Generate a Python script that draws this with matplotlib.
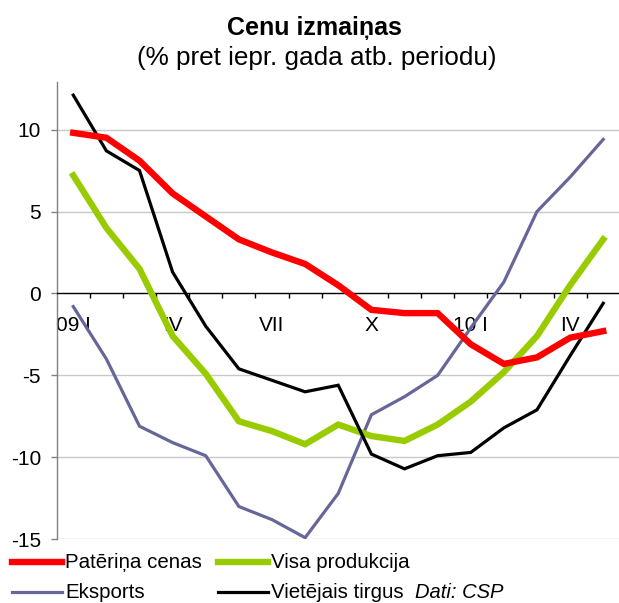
import matplotlib
matplotlib.use("Agg")
import matplotlib.pyplot as plt
from matplotlib.lines import Line2D

plt.rcParams['font.family'] = ['Liberation Sans', 'DejaVu Sans']

categories = ['09 I', 'II', 'III', 'IV', 'V', 'VI', 'VII', 'VIII', 'IX', 'X', 'XI', 'XII',
              '10 I', 'II', 'III', 'IV', 'V']
tick_positions = [0, 3, 6, 9, 12, 15]
tick_labels = ['09 I', 'IV', 'VII', 'X', '10 I', 'IV']

pateriņa = [9.8, 9.5, 8.1, 6.1, 4.7, 3.3, 2.5, 1.8, 0.5, -1.0, -1.2, -1.2, -3.1, -4.3, -3.9, -2.7, -2.3]
visa = [7.2, 4.0, 1.5, -2.6, -4.9, -7.8, -8.4, -9.2, -8.0, -8.7, -9.0, -8.0, -6.6, -4.8, -2.6, 0.5, 3.3]
eksports = [-0.8, -4.0, -8.1, -9.1, -9.9, -13.0, -13.8, -14.9, -12.2, -7.4, -6.3, -5.0, -2.1, 0.7, 5.0, 7.1, 9.4]
vietejais = [12.1, 8.7, 7.5, 1.3, -2.0, -4.6, -5.3, -6.0, -5.6, -9.8, -10.7, -9.9, -9.7, -8.2, -7.1, -3.8, -0.6]

y_ticks = [10, 5, 0, -5, -10, -15]

W, H = 619, 603
fig = plt.figure(figsize=(W / 100, H / 100), dpi=100)
ax = fig.add_axes([56.7 / W, 63.7 / H, 563.1 / W, 457.6 / H])

x = list(range(len(categories)))
ax.plot(x, eksports, color='#666699', lw=2.3, solid_joinstyle='miter', zorder=3)
ax.plot(x, vietejais, color='#000000', lw=2.3, solid_joinstyle='miter', zorder=4)
ax.plot(x, visa, color='#99CC00', lw=4.6, solid_joinstyle='miter', zorder=3)
ax.plot(x, pateriņa, color='#FF0000', lw=4.6, solid_joinstyle='miter', zorder=5)

ax.set_xlim(-0.5, len(categories) - 0.5)
ax.set_ylim(-15, 12.92)

for yv in [10, 5, -5, -10, -15]:
    ax.axhline(yv, color='#C8C8C8', lw=1.0, zorder=1)

ax.spines['top'].set_visible(False)
ax.spines['right'].set_visible(False)
ax.spines['left'].set_color('#808080')
ax.spines['left'].set_linewidth(1.0)
ax.spines['bottom'].set_position(('data', 0))
ax.spines['bottom'].set_color('#000000')
ax.spines['bottom'].set_linewidth(1.0)

ax.set_yticks(y_ticks)
ax.set_yticklabels([str(v) for v in y_ticks])
ax.tick_params(axis='y', direction='out', length=4.3, width=1.0, color='#808080',
               labelsize=15, pad=7.0)

ax.set_xticks(tick_positions)
ax.set_xticklabels(tick_labels)
ax.set_xticks([i + 0.5 for i in range(len(categories) - 1)], minor=True)
ax.tick_params(axis='x', which='major', length=0, labelsize=15, pad=16)
ax.tick_params(axis='x', which='minor', direction='out', length=3.6, width=1.0, color='#000000')

fig.text(314 / W, 1 - 28 / H, 'Cenu izmaiņas', ha='center', va='center',
         fontsize=18, fontweight='bold')
fig.text(317 / W, 1 - 58 / H, '(% pret iepr. gada atb. periodu)', ha='center', va='center',
         fontsize=18.8)

legend_items = [
    ('Patēriņa cenas', '#FF0000', 4.6, 12, 562),
    ('Visa produkcija', '#99CC00', 4.6, 218, 562),
    ('Eksports', '#666699', 2.3, 12, 592),
    ('Vietējais tirgus', '#000000', 2.3, 218, 592),
]
for label, color, lw, x0, y0 in legend_items:
    fig.add_artist(Line2D([x0 / W, (x0 + 50) / W], [1 - y0 / H, 1 - y0 / H],
                          color=color, lw=lw, transform=fig.transFigure))
    fig.text((x0 + 53) / W, 1 - y0 / H, label, ha='left', va='center', fontsize=14.8)

fig.text(415 / W, 1 - 593 / H, 'Dati: CSP', ha='left', va='center', fontsize=14.5,
         style='italic')

fig.savefig('out.png', dpi=100)
